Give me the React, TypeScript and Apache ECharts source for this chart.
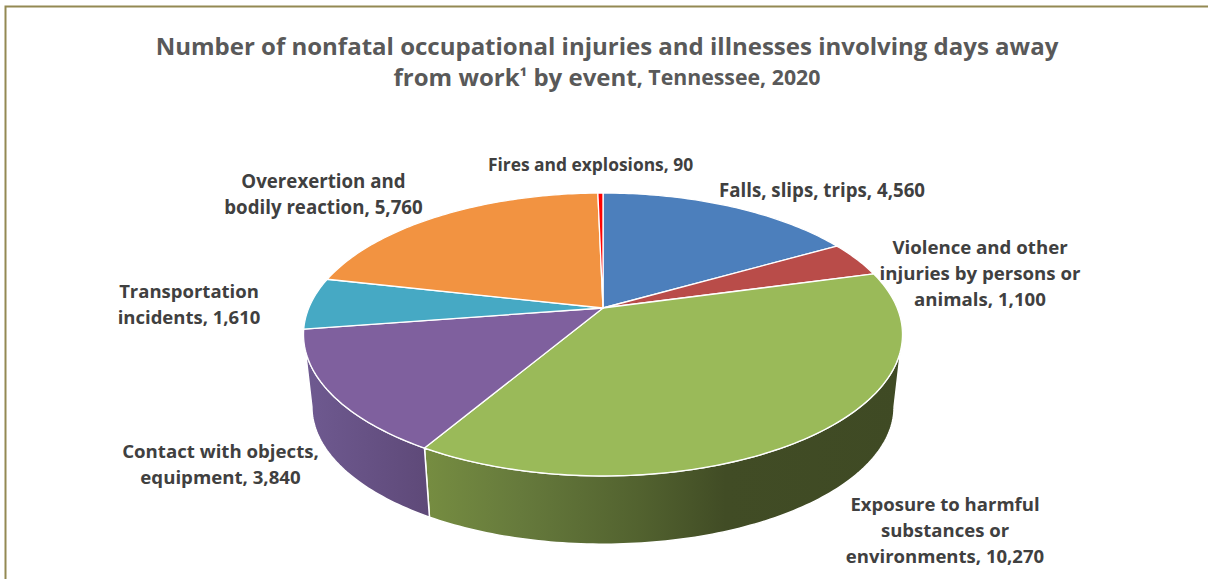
import React, { useEffect, useRef } from "react";
import * as echarts from "echarts";

const categories = [
  "Falls, slips, trips",
  "Violence and other\ninjuries by persons or\nanimals",
  "Exposure to harmful\nsubstances or\nenvironments",
  "Contact with objects,\nequipment",
  "Transportation\nincidents",
  "Overexertion and\nbodily reaction",
  "Fires and explosions",
];
const values = [4560, 1100, 10270, 3840, 1610, 5760, 90];
const topColors = ["#4c7fbc", "#b94c49", "#9aba59", "#7f609e", "#46a9c4", "#f29341", "#ff0000"];
const labelAnchors = [
  [822, 189],
  [980, 272],
  [945, 529],
  [220.5, 463],
  [189, 303],
  [323.5, 193],
  [590.5, 164],
];
const labelFontSizes = [18.7, 18.65, 18.55, 18.65, 18.5, 18.7, 17.4];

const titleLine1 = "Number of nonfatal occupational injuries and illnesses involving days away";
const titleLine2a = "from work";
const titleSup = "\u00b9";
const titleLine2b = " by event";
const titleLine3 = ", Tennessee, 2020";

const FONT = '"Open Sans", "Noto Sans", sans-serif';
const total = values.reduce((a, b) => a + b, 0);
const starts: number[] = [];
values.reduce((acc, v, i) => {
  starts[i] = acc;
  return acc + v;
}, 0);

// projective view of the pie disc
const CX = 603;
const CY = 308;
const A = 294.2;
const B = 136.5;
const P = 0.187;
const DEPTH = 73;
const BOTTOM_SCALE = 0.972;

function project(theta: number, bottom = false): number[] {
  const x = Math.sin(theta);
  const y = -Math.cos(theta);
  const d = 1 - P * y;
  const X = (A * x) / d;
  const Y = (B * y) / d;
  return bottom ? [CX + X * BOTTOM_SCALE, CY + Y * BOTTOM_SCALE + DEPTH] : [CX + X, CY + Y];
}
function angleOf(v: number): number {
  return (v / total) * Math.PI * 2;
}
function arc(a0: number, a1: number, bottom = false): number[][] {
  const n = Math.max(2, Math.ceil(((a1 - a0) * 180) / Math.PI));
  const pts: number[][] = [];
  for (let i = 0; i <= n; i++) pts.push(project(a0 + ((a1 - a0) * i) / n, bottom));
  return pts;
}
const FRONT_START = Math.PI - Math.acos(P);
const FRONT_END = Math.PI + Math.acos(P);

function wallFill(i: number) {
  if (i === 2) {
    return new echarts.graphic.LinearGradient(0, 0, 1, 0, [
      { offset: 0, color: "#768d41" },
      { offset: 0.2, color: "#667a3c" },
      { offset: 0.45, color: "#52622f" },
      { offset: 0.63, color: "#414c25" },
      { offset: 1, color: "#3f4a24" },
    ]);
  }
  return new echarts.graphic.LinearGradient(0, 0, 1, 0, [
    { offset: 0, color: "#6f5a91" },
    { offset: 1, color: "#5e4978" },
  ]);
}

export default function App() {
  const ref = useRef<HTMLDivElement>(null);
  useEffect(() => {
    const chart = echarts.init(ref.current!, null, { renderer: "svg" });
    const seriesData = values.map((v, i) => ({ name: categories[i], value: v }));
    chart.setOption({
      animation: false,
      backgroundColor: "#ffffff",
      graphic: [
        {
          type: "rect",
          shape: { x: 5.5, y: 6.5, width: 1230, height: 600 },
          style: { fill: "none", stroke: "#938953", lineWidth: 2 },
          silent: true,
          z: 0,
        },
      ],
      title: {
        show: true,
        text: `{a|${titleLine1}}\n{a|${titleLine2a}}{s|${titleSup}}{a|${titleLine2b}}{b|${titleLine3}}`,
        left: 602,
        top: 24.5,
        textAlign: "center",
        textStyle: {
          rich: {
            a: { fontFamily: FONT, fontSize: 24, fontWeight: 700, color: "#595959", lineHeight: 31 },
            s: { fontFamily: FONT, fontSize: 20, fontWeight: 700, color: "#595959", lineHeight: 31 },
            b: { fontFamily: FONT, fontSize: 21.3, fontWeight: 700, color: "#595959", lineHeight: 31 },
          },
        },
      },
      series: [
        {
          type: "custom",
          coordinateSystem: "none",
          z: 1,
          silent: true,
          data: seriesData,
          renderItem: (params: any) => {
            const i = params.dataIndex;
            const a0 = Math.max(angleOf(starts[i]), FRONT_START);
            const a1 = Math.min(angleOf(starts[i] + values[i]), FRONT_END);
            if (a1 <= a0) return { type: "group", children: [] };
            const points = [...arc(a0, a1), ...arc(a0, a1, true).reverse()];
            return {
              type: "polygon",
              shape: { points },
              style: { fill: wallFill(i), stroke: "#ffffff", lineWidth: 1.5 },
            };
          },
        },
        {
          type: "custom",
          coordinateSystem: "none",
          z: 2,
          silent: true,
          data: seriesData,
          renderItem: (params: any) => {
            const i = params.dataIndex;
            const a0 = angleOf(starts[i]);
            const a1 = angleOf(starts[i] + values[i]);
            return {
              type: "polygon",
              shape: { points: [[CX, CY], ...arc(a0, a1)] },
              style: { fill: topColors[i], stroke: "#ffffff", lineWidth: 1.3, lineJoin: "round" },
            };
          },
        },
        {
          type: "custom",
          coordinateSystem: "none",
          z: 3,
          silent: true,
          data: seriesData,
          renderItem: (params: any) => {
            const i = params.dataIndex;
            return {
              type: "text",
              style: {
                text: `${categories[i]}, ${values[i].toLocaleString("en-US")}`,
                x: labelAnchors[i][0],
                y: labelAnchors[i][1],
                align: "center",
                verticalAlign: "middle",
                fontFamily: FONT,
                fontSize: labelFontSizes[i],
                fontWeight: 700,
                lineHeight: 26,
                fill: "#404040",
              },
            };
          },
        },
      ],
    });
    return () => chart.dispose();
  }, []);
  return <div ref={ref} style={{ position: "fixed", left: 0, top: 0, width: 1208, height: 579 }} />;
}
